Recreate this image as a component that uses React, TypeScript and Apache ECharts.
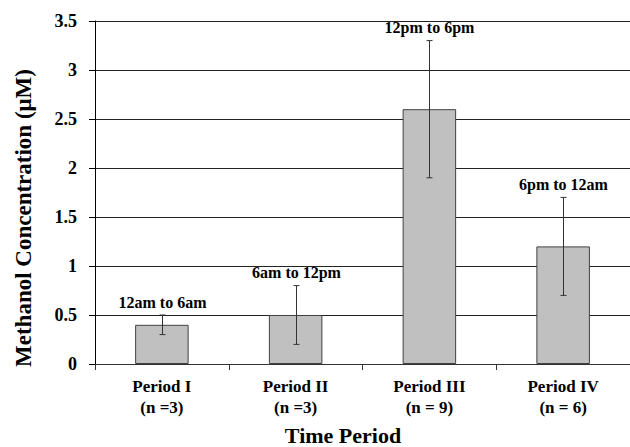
import React, { useEffect, useRef } from "react";
import * as echarts from "echarts";

const categories = ["Period I\n(n =3)", "Period II\n(n =3)", "Period III\n(n = 9)", "Period IV\n(n = 6)"];
const means = [0.4, 0.5, 2.6, 1.2];
const errLow = [0.3, 0.2, 1.9, 0.7];
const errHigh = [0.5, 0.8, 3.3, 1.7];
const timeLabels = ["12am to 6am", "6am to 12pm", "12pm to 6pm", "6pm to 12am"];
const yTicks = { min: 0, max: 3.5, interval: 0.5 };

const FONT = "'Liberation Serif', 'Times New Roman', serif";

export default function App() {
  const ref = useRef<HTMLDivElement>(null);
  useEffect(() => {
    if (!ref.current) return;
    const chart = echarts.init(ref.current, null, { renderer: "svg" });
    const errData = categories.map((_, i) => [i, errLow[i], errHigh[i]]);
    chart.setOption({
      animation: false,
      backgroundColor: "#ffffff",
      grid: { left: 95, top: 21, width: 536, height: 343, containLabel: false },
      xAxis: {
        type: "category",
        data: categories,
        boundaryGap: true,
        axisLine: { show: true, lineStyle: { color: "#333", width: 1 } },
        axisTick: { show: true, length: 6, lineStyle: { color: "#333" } },
        axisLabel: {
          color: "#000",
          fontFamily: FONT,
          fontWeight: "bold",
          fontSize: 17,
          lineHeight: 21,
          margin: 12,
          interval: 0,
        },
        splitLine: { show: false },
      },
      yAxis: {
        type: "value",
        min: yTicks.min,
        max: yTicks.max,
        interval: yTicks.interval,
        axisLine: { show: true, lineStyle: { color: "#000", width: 1 } },
        axisTick: { show: true, length: 6, lineStyle: { color: "#000" } },
        axisLabel: {
          color: "#000",
          fontFamily: FONT,
          fontWeight: "bold",
          fontSize: 18,
          margin: 18,
        },
        splitLine: { show: true, lineStyle: { color: "#222", width: 1 } },
      },
      series: [
        {
          type: "bar",
          data: means,
          barWidth: "40%",
          itemStyle: { color: "#c0c0c0", borderColor: "#404040", borderWidth: 1 },
          z: 2,
        },
        {
          type: "custom",
          data: errData,
          encode: { x: 0, y: [1, 2] },
          z: 3,
          clip: false,
          renderItem: (params: any, api: any) => {
            const idx = api.value(0);
            const lo = api.coord([idx, api.value(1)]);
            const hi = api.coord([idx, api.value(2)]);
            const x = Math.round(lo[0]) + 0.5;
            const cap = 3;
            const stroke = { stroke: "#333", lineWidth: 1 };
            return {
              type: "group",
              children: [
                { type: "line", shape: { x1: x, y1: lo[1], x2: x, y2: hi[1] }, style: stroke },
                { type: "line", shape: { x1: x - cap, y1: lo[1], x2: x + cap, y2: lo[1] }, style: stroke },
                { type: "line", shape: { x1: x - cap, y1: hi[1], x2: x + cap, y2: hi[1] }, style: stroke },
                {
                  type: "text",
                  style: {
                    text: timeLabels[idx],
                    x: x,
                    y: hi[1] - 5,
                    align: "center",
                    verticalAlign: "bottom",
                    font: `bold 16px ${FONT}`,
                    fill: "#000",
                  },
                },
              ],
            };
          },
        },
      ],
      graphic: [
        {
          type: "text",
          x: 23,
          y: 218,
          rotation: Math.PI / 2,
          style: {
            text: "Methanol Concentration (\u03bcM)",
            align: "center",
            verticalAlign: "middle",
            font: `bold 23px ${FONT}`,
            fill: "#000",
          },
        },
        {
          type: "text",
          x: 343,
          y: 446,
          style: {
            text: "Time Period",
            align: "center",
            verticalAlign: "bottom",
            font: `bold 22px ${FONT}`,
            fill: "#000",
          },
        },
      ],
    });
    return () => chart.dispose();
  }, []);
  return (
    <div
      ref={ref}
      style={{ position: "fixed", left: 0, top: 0, width: 630, height: 447, background: "#fff" }}
    />
  );
}
